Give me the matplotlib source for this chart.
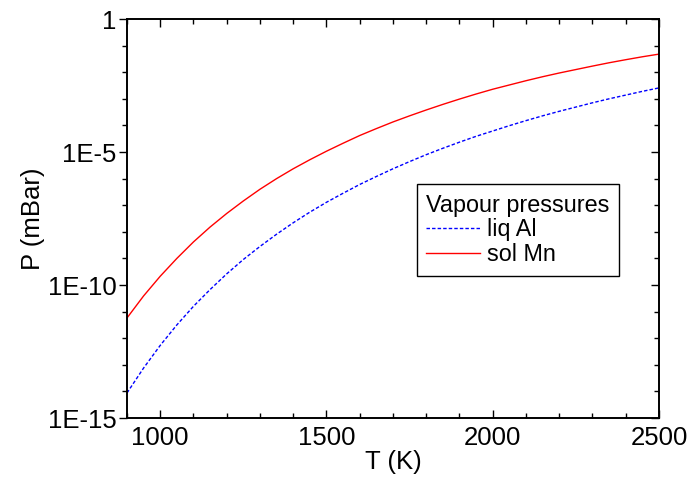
import numpy as np
import matplotlib.pyplot as plt
from matplotlib.ticker import FixedLocator, FuncFormatter

plt.rcParams['font.family'] = ['Liberation Sans', 'DejaVu Sans']

# temperatures (K) and log10 of vapour pressures (mBar)
T = [900, 950, 1000, 1050, 1100, 1150, 1200, 1250, 1300, 1350, 1400,
     1450, 1500, 1550, 1600, 1650, 1700, 1750, 1800, 1850, 1900, 1950,
     2000, 2050, 2100, 2150, 2200, 2250, 2300, 2350, 2400, 2450, 2500]
log_al = [-14.06, -13.12, -12.27, -11.50, -10.80, -10.17, -9.58, -9.04, -8.55,
          -8.09, -7.66, -7.26, -6.89, -6.55, -6.22, -5.92, -5.63, -5.36, -5.10,
          -4.86, -4.63, -4.41, -4.21, -4.01, -3.82, -3.64, -3.47, -3.31, -3.15,
          -3.00, -2.86, -2.72, -2.59]
log_mn = [-11.24, -10.41, -9.67, -9.00, -8.38, -7.82, -7.31, -6.84, -6.40,
          -6.00, -5.63, -5.29, -4.97, -4.67, -4.38, -4.12, -3.87, -3.64, -3.42,
          -3.21, -3.01, -2.82, -2.64, -2.48, -2.32, -2.17, -2.03, -1.90, -1.77,
          -1.645, -1.53, -1.42, -1.32]

p_al = 10.0 ** np.array(log_al)
p_mn = 10.0 ** np.array(log_mn)

fig = plt.figure(figsize=(6.92, 4.86), dpi=100)
ax = fig.add_axes([0.1835, 0.1399, 0.7688, 0.8210])

ax.plot(T, p_al, color='#0000ff', lw=1.0, ls=(0, (2.5, 1.5)), label='liq Al')
ax.plot(T, p_mn, color='#ff0000', lw=1.0, label='sol Mn')

ax.set_yscale('log')
ax.set_xlim(900, 2500)
ax.set_ylim(1e-15, 1)

# ticks
ax.xaxis.set_major_locator(FixedLocator([1000, 1500, 2000, 2500]))
ax.xaxis.set_minor_locator(FixedLocator([x for x in range(900, 2501, 100) if x % 500]))
ax.yaxis.set_major_locator(FixedLocator([1e-15, 1e-10, 1e-5, 1]))
ax.yaxis.set_minor_locator(FixedLocator([10.0 ** e for e in range(-15, 1) if e % 5]))
ax.yaxis.set_minor_formatter(FuncFormatter(lambda v, p: ''))
ylabs = {-15: '1E-15', -10: '1E-10', -5: '1E-5', 0: '1'}
ax.yaxis.set_major_formatter(FuncFormatter(lambda v, p: ylabs.get(int(round(np.log10(v))), '')))

ax.tick_params(axis='x', which='both', direction='in', top=True, labelsize=18.5, width=1.0, pad=6)
ax.tick_params(axis='x', which='major', length=6)
ax.tick_params(axis='x', which='minor', length=3.5)
ax.tick_params(axis='y', which='both', direction='out', labelsize=18.5, width=1.0, pad=2)
ax.tick_params(axis='y', which='major', length=5.5)
ax.tick_params(axis='y', which='minor', length=3.5)

# right side ticks point inward
ax2 = ax.twinx()
ax2.set_yscale('log')
ax2.set_ylim(1e-15, 1)
ax2.yaxis.set_major_locator(FixedLocator([1e-15, 1e-10, 1e-5, 1]))
ax2.yaxis.set_minor_locator(FixedLocator([10.0 ** e for e in range(-15, 1) if e % 5]))
ax2.tick_params(axis='y', which='both', direction='in', labelright=False, width=1.0)
ax2.tick_params(axis='y', which='major', length=6)
ax2.tick_params(axis='y', which='minor', length=3.5)

for a in (ax, ax2):
    for s in a.spines.values():
        s.set_linewidth(1.2)

ax.set_xlabel('T (K)', fontsize=18.5, labelpad=0)
ax.set_ylabel('P (mBar)', fontsize=18.5, labelpad=2)

leg = ax.legend(title='Vapour pressures', loc='upper left', bbox_to_anchor=(0.545, 0.586),
                borderaxespad=0, fontsize=16.8, title_fontsize=16.8, frameon=True, fancybox=False,
                edgecolor='black', framealpha=1, handlelength=2.3, handletextpad=0.3,
                labelspacing=0.08, borderpad=0.4)
leg.get_frame().set_linewidth(1.0)
leg._legend_box.align = 'left'

fig.savefig('out.png', dpi=100)
